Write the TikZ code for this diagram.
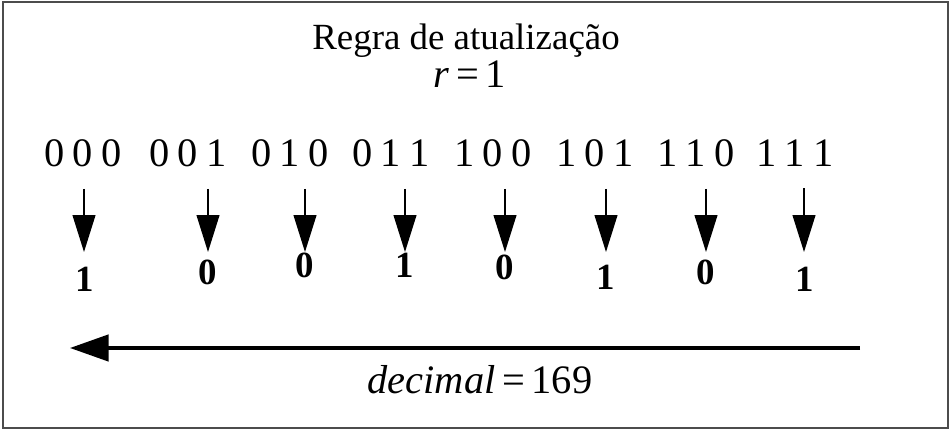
\documentclass[tikz,border=0pt]{standalone}
\usepackage{fontspec}
\setmainfont{Liberation Serif}
\usetikzlibrary{arrows.meta}

% spaced-out neighbourhood digits
\newcommand{\viz}[3]{#1\hspace{0.2em}#2\hspace{0.2em}#3}

\begin{document}
\begin{tikzpicture}[
    frame/.style={draw=black!70, line width=0.6pt},
    triple/.style={font=\fontsize{23}{27}\selectfont, inner sep=0pt, anchor=base},
    bit/.style={font=\fontsize{21}{25}\selectfont\bfseries, inner sep=0pt, anchor=base},
    seta/.style={-{Triangle[length=21pt, width=13pt]}, line width=0.8pt, shorten <=12pt},
    seta larga/.style={-{Triangle[length=22pt, width=15pt]}, line width=2pt},
]
\useasboundingbox (0,0) rectangle (19.02,8.64);

% Frame
\draw[frame] (0.06,0.08) rectangle (18.96,8.60);

% Title
\node[triple, font=\fontsize{21}{25}\selectfont] (titulo) at (9.32,7.64) {Regra de atualização};
\node[triple] (raio) at (9.40,6.88) {\textit{r}\,=\,1};

% Neighbourhoods
\node[triple] (t0) at (1.66,5.30) {\viz000};
\node[triple] (t1) at (3.76,5.30) {\viz001};
\node[triple] (t2) at (5.80,5.30) {\viz010};
\node[triple] (t3) at (7.82,5.30) {\viz011};
\node[triple] (t4) at (9.86,5.30) {\viz100};
\node[triple] (t5) at (11.90,5.30) {\viz101};
\node[triple] (t6) at (13.92,5.30) {\viz110};
\node[triple] (t7) at (15.90,5.30) {\viz111};

% Arrow tips
\coordinate (p0) at (1.68,3.60);
\coordinate (p1) at (4.16,3.60);
\coordinate (p2) at (6.10,3.60);
\coordinate (p3) at (8.10,3.60);
\coordinate (p4) at (10.10,3.60);
\coordinate (p5) at (12.12,3.60);
\coordinate (p6) at (14.12,3.60);
\coordinate (p7) at (16.08,3.60);

% New states
\node[bit] (b0) at (1.70,2.80) {1};
\node[bit] (b1) at (4.16,2.94) {0};
\node[bit] (b2) at (6.10,3.08) {0};
\node[bit] (b3) at (8.10,3.08) {1};
\node[bit] (b4) at (10.10,3.04) {0};
\node[bit] (b5) at (12.12,2.84) {1};
\node[bit] (b6) at (14.12,2.94) {0};
\node[bit] (b7) at (16.10,2.80) {1};

\draw[seta] (t0.south -| p0) -- (p0);
\draw[seta] (t1.south -| p1) -- (p1);
\draw[seta] (t2.south -| p2) -- (p2);
\draw[seta] (t3.south -| p3) -- (p3);
\draw[seta] (t4.south -| p4) -- (p4);
\draw[seta] (t5.south -| p5) -- (p5);
\draw[seta] (t6.south -| p6) -- (p6);
\draw[seta] (t7.south -| p7) -- (p7);

% Reading direction
\coordinate (inicio) at (17.20,1.68);
\coordinate (fim) at (1.40,1.68);
\draw[seta larga] (inicio) -- (fim);
\node[triple] (decimal) at (9.60,0.76) {\textit{decimal}\,=\,169};

\end{tikzpicture}
\end{document}
